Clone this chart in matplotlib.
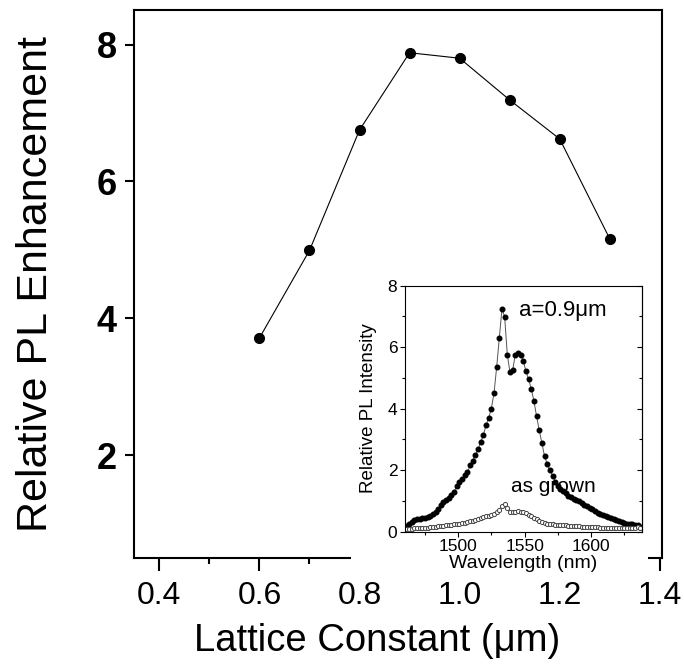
import numpy as np
import matplotlib
matplotlib.use("Agg")
import matplotlib.pyplot as plt
from matplotlib.patches import Rectangle

plt.rcParams['font.family'] = ['Liberation Sans', 'DejaVu Sans']

# ---- main plot: enhancement vs lattice constant ----
lattice = [0.6, 0.7, 0.8, 0.9, 1.0, 1.1, 1.2, 1.3]
enhancement = [3.71, 4.99, 6.75, 7.88, 7.80, 7.19, 6.62, 5.16]

# ---- inset: PL spectra ----
wavelength = [1461, 1463, 1465, 1467, 1469, 1471, 1473, 1475, 1477, 1479,
              1481, 1483, 1485, 1487, 1489, 1491, 1493, 1495, 1497, 1499,
              1501, 1503, 1505, 1507, 1509, 1511, 1513, 1515, 1517, 1519,
              1521, 1523, 1525, 1527, 1529, 1531, 1533, 1535, 1537, 1539,
              1541, 1543, 1545, 1547, 1549, 1551, 1553, 1555, 1557, 1559,
              1561, 1563, 1565, 1567, 1569, 1571, 1573, 1575, 1577, 1579,
              1581, 1583, 1585, 1587, 1589, 1591, 1593, 1595, 1597, 1599,
              1601, 1603, 1605, 1607, 1609, 1611, 1613, 1615, 1617, 1619,
              1621, 1623, 1625, 1627, 1629, 1631, 1633, 1635, 1637]
pl_a09 = [0.18, 0.25, 0.30, 0.36, 0.40, 0.42, 0.44, 0.45, 0.47, 0.52,
          0.57, 0.62, 0.72, 0.86, 0.96, 1.02, 1.08, 1.18, 1.30, 1.48,
          1.60, 1.70, 1.85, 1.92, 2.15, 2.30, 2.48, 2.68, 2.90, 3.15,
          3.45, 3.70, 4.00, 4.50, 5.35, 6.30, 7.25, 6.98, 5.75, 5.18,
          5.25, 5.75, 5.82, 5.75, 5.55, 5.22, 4.95, 4.65, 4.25, 3.75,
          3.30, 2.88, 2.45, 2.20, 2.00, 1.82, 1.62, 1.48, 1.38, 1.32,
          1.25, 1.15, 1.12, 1.05, 1.02, 0.98, 0.92, 0.86, 0.82, 0.78,
          0.74, 0.68, 0.60, 0.56, 0.53, 0.51, 0.48, 0.44, 0.40, 0.37,
          0.33, 0.30, 0.28, 0.26, 0.24, 0.25, 0.20, 0.21, 0.16]
pl_grown = [0.08, 0.08, 0.09, 0.10, 0.10, 0.11, 0.12, 0.12, 0.13, 0.14,
            0.15, 0.16, 0.17, 0.18, 0.19, 0.20, 0.21, 0.22, 0.24, 0.25,
            0.26, 0.28, 0.29, 0.31, 0.33, 0.35, 0.38, 0.40, 0.43, 0.46,
            0.49, 0.52, 0.55, 0.58, 0.62, 0.70, 0.82, 0.90, 0.78, 0.65,
            0.62, 0.64, 0.66, 0.65, 0.62, 0.59, 0.55, 0.50, 0.45, 0.40,
            0.35, 0.31, 0.28, 0.26, 0.24, 0.23, 0.22, 0.21, 0.21, 0.20,
            0.20, 0.19, 0.18, 0.18, 0.17, 0.17, 0.16, 0.16, 0.16, 0.15,
            0.15, 0.14, 0.14, 0.13, 0.13, 0.13, 0.12, 0.12, 0.12, 0.11,
            0.11, 0.10, 0.10, 0.11, 0.12, 0.13, 0.12, 0.14, 0.10]

fig = plt.figure(figsize=(6.84, 6.70), dpi=100)

ax = fig.add_axes([0.1963, 0.1676, 0.7720, 0.8170])
ax.plot(lattice, enhancement, color='black', lw=0.8, marker='o',
        markersize=7, markerfacecolor='black', markeredgecolor='black')
ax.set_xlim(0.35, 1.405)
ax.set_ylim(0.5, 8.5)
ax.set_xticks([0.4, 0.6, 0.8, 1.0, 1.2, 1.4])
ax.set_xticks([0.5, 0.7, 0.9, 1.1, 1.3], minor=True)
ax.set_xticklabels(['0.4', '0.6', '0.8', '1.0', '1.2', '1.4'])
ax.set_yticks([2, 4, 6, 8])
ax.tick_params(axis='x', which='major', direction='out', length=9, width=1.5,
               labelsize=23, pad=8)
ax.tick_params(axis='x', which='minor', direction='out', length=4, width=1.5)
ax.tick_params(axis='y', direction='out', length=6.5, width=1.5,
               labelsize=26, pad=6)
for lab in ax.get_yticklabels():
    lab.set_fontweight('bold')
for s in ax.spines.values():
    s.set_linewidth(1.5)
ax.set_xlabel('Lattice Constant (μm)', fontsize=27.5)
ax.xaxis.set_label_coords(0.46, -0.12)
ax.set_ylabel('Relative PL Enhancement', fontsize=31)
ax.yaxis.set_label_coords(-0.148, 0.5)

# white box hiding the part of the main frame behind the inset
fig.add_artist(Rectangle((0.513, 0.142), 0.435, 0.446, transform=fig.transFigure,
                         facecolor='white', edgecolor='none', zorder=1))

ins = fig.add_axes([0.592, 0.2067, 0.3460, 0.3670], zorder=2)
ins.plot(wavelength, pl_a09, color='#555555', lw=0.7, marker='o',
         markersize=3.3, markerfacecolor='black', markeredgecolor='black')
ins.plot(wavelength, pl_grown, color='#888888', lw=0.5, marker='o',
         markersize=3.0, markerfacecolor='white', markeredgecolor='#444444',
         markeredgewidth=0.7)
ins.set_xlim(1460, 1638)
ins.set_ylim(0, 8)
ins.set_xticks([1500, 1550, 1600])
ins.set_xticks([1475, 1525, 1575, 1625], minor=True)
ins.set_yticks([0, 2, 4, 6, 8])
ins.set_yticks([1, 3, 5, 7], minor=True)
ins.tick_params(which='major', direction='out', length=3.5, width=0.8,
                labelsize=12.5, pad=2)
ins.tick_params(which='minor', direction='out', length=2, width=0.8)
# mirror ticks on the right side, pointing inward
sec = ins.secondary_yaxis('right')
sec.set_yticks([0, 2, 4, 6, 8])
sec.set_yticks([1, 3, 5, 7], minor=True)
sec.tick_params(which='major', direction='in', length=3.5, width=0.8,
                labelright=False)
sec.tick_params(which='minor', direction='in', length=2, width=0.8)
sec.spines['right'].set_linewidth(0.8)
for s in ins.spines.values():
    s.set_linewidth(0.8)
ins.set_xlabel('Wavelength (nm)', fontsize=14)
ins.xaxis.set_label_coords(0.5, -0.095)
ins.set_ylabel('Relative PL Intensity', fontsize=13.5)
ins.yaxis.set_label_coords(-0.12, 0.5)
ins.text(1546, 7.2, 'a=0.9μm', fontsize=16, va='center', ha='left')
ins.text(1540, 1.3, 'as grown', fontsize=15, va='baseline', ha='left')

fig.savefig('out.png', dpi=100)
